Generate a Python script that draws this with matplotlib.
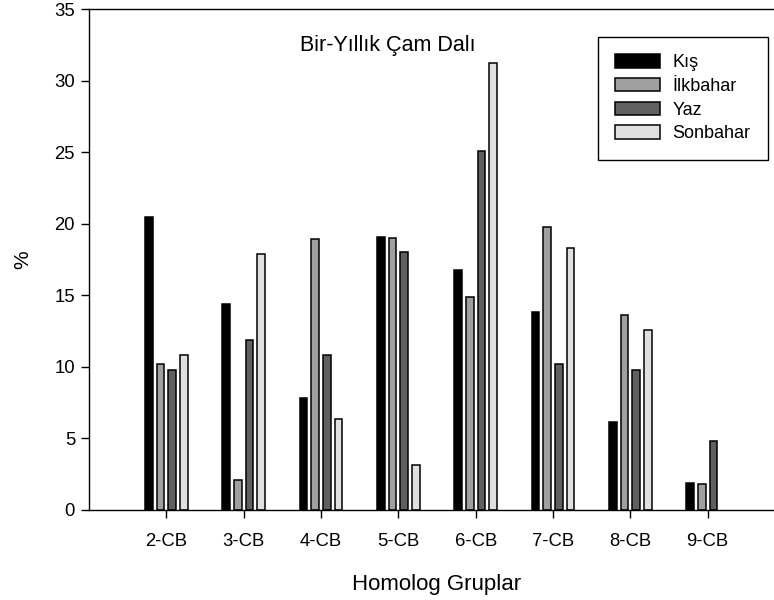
# coding=utf-8
"""
Bir-Yıllık Çam Dalı: homolog gruplara göre mevsimsel dağılım (%).
"""

import matplotlib
matplotlib.use('Agg')
import matplotlib.pyplot as plt
import numpy as np

plt.rcParams['font.family'] = ['Liberation Sans', 'DejaVu Sans']

# Veriler
gruplar = ['2-CB', '3-CB', '4-CB', '5-CB', '6-CB', '7-CB', '8-CB', '9-CB']
mevsimler = ['Kış', 'İlkbahar', 'Yaz', 'Sonbahar']
kis = [20.5, 14.4, 7.8, 19.1, 16.8, 13.8, 6.15, 1.9]
ilkbahar = [10.2, 2.1, 18.9, 19.0, 14.85, 19.8, 13.65, 1.85]
yaz = [9.8, 11.9, 10.85, 18.05, 25.05, 10.2, 9.75, 4.8]
sonbahar = [10.8, 17.85, 6.35, 3.15, 31.2, 18.3, 12.6, 0.0]
renkler = ['#000000', '#a0a0a0', '#606060', '#e0e0e0']

seriler = [kis, ilkbahar, yaz, sonbahar]

fig = plt.figure(figsize=(7.74, 6.0), dpi=100)
ax = fig.add_axes([89 / 774, 90 / 600, (785 - 89) / 774, (510 - 9) / 600])

# Barras agrupadas (4 mevsim por grupo)
x = np.arange(1, len(gruplar) + 1)
ancho = 0.1
paso = 0.15
for k, (vals, etiqueta, color) in enumerate(zip(seriler, mevsimler, renkler)):
    offs = (k - 1.5) * paso
    v = np.array(vals)
    mask = v > 0
    ax.bar(x[mask] + offs, v[mask], width=ancho, color=color,
           edgecolor='black', linewidth=1.1, label=etiqueta)

ax.set_xlim(0, 9)
ax.set_ylim(0, 35)
ax.set_xticks(x)
ax.set_xticklabels(gruplar)
ax.set_yticks(np.arange(0, 36, 5))
ax.tick_params(axis='both', labelsize=13.3, length=6, width=1.0,
               direction='out')
ax.tick_params(axis='x', pad=10.5)
ax.tick_params(axis='y', pad=4)
for s in ['left', 'bottom', 'top']:
    ax.spines[s].set_linewidth(1.0)
ax.spines['right'].set_visible(False)

ax.set_xlabel('Homolog Gruplar', fontsize=16, labelpad=17.5)
ax.set_ylabel('%', fontsize=15, labelpad=16)
ax.text(388 / 774, 1 - 46 / 600, 'Bir-Yıllık Çam Dalı', fontsize=15.5,
        ha='center', va='center', transform=fig.transFigure)

leg = ax.legend(loc='upper left', bbox_to_anchor=(598 / 774, 1 - 37 / 600),
                bbox_transform=fig.transFigure, fontsize=13, frameon=True,
                fancybox=False, framealpha=1, edgecolor='black',
                handlelength=2.5, handleheight=0.78, handletextpad=0.67,
                labelspacing=0.37, borderpad=0.95, borderaxespad=0)
leg.get_frame().set_linewidth(1.0)

fig.savefig('out.png', dpi=100)
